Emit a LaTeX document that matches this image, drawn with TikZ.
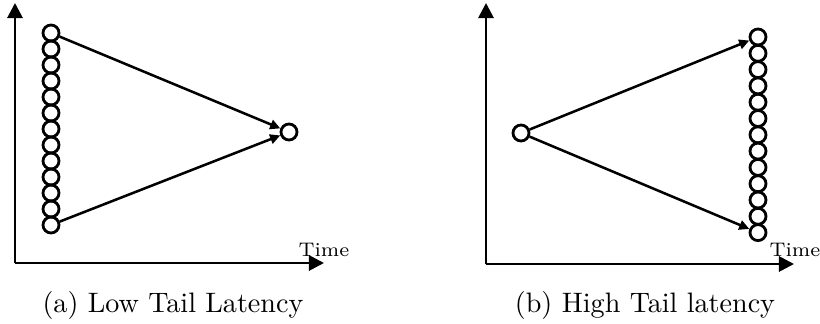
\documentclass[tikz,border=0pt]{standalone}
\usetikzlibrary{arrows.meta}

\begin{document}
\begin{tikzpicture}[
    x=0.0125cm, y=-0.0125cm,
    req/.style={circle, draw, line width=1pt, minimum size=0.2cm, inner sep=0pt},
    axis/.style={-{Triangle[length=5.4pt,width=5.4pt]}, line width=1pt},
    arrow/.style={-{Triangle[length=3.6pt,width=3.4pt]}, line width=0.9pt},
    timetext/.style={font=\scriptsize, anchor=south, inner sep=0.5pt}
]
\useasboundingbox (0,0) rectangle (820,324);

% Axes (a)
\coordinate (a_origin) at (15,263);
\coordinate (a_ytop) at (15,3);
\coordinate (a_xend) at (324,263);
\draw[axis] (a_origin) -- (a_ytop);
\draw[axis] (a_origin) -- (a_xend);
\node[timetext] (a_time) at (324,259) {Time};

% Requests (a)
\foreach \i in {0,...,12}
    \node[req] (a_req\i) at (51,33+16*\i) {};
\node[req] (a_join) at (289,132) {};

% Axes (b)
\coordinate (b_origin) at (486,264);
\coordinate (b_ytop) at (486,3);
\coordinate (b_xend) at (794,264);
\draw[axis] (b_origin) -- (b_ytop);
\draw[axis] (b_origin) -- (b_xend);
\node[timetext] (b_time) at (795,259) {Time};

% Requests (b)
\node[req] (b_src) at (521,133) {};
\foreach \i in {0,...,12}
    \node[req] (b_req\i) at (758,37+16.3*\i) {};

% Arrows
\draw[arrow] (a_req0) -- (a_join);
\draw[arrow] (a_req12) -- (a_join);
\draw[arrow] (b_src) -- (b_req0);
\draw[arrow] (b_src) -- (b_req12);

% Captions
\node (a_caption) at (173,305) {(a) Low Tail Latency};
\node (b_caption) at (645,305) {(b) High Tail latency};

\end{tikzpicture}
\end{document}
